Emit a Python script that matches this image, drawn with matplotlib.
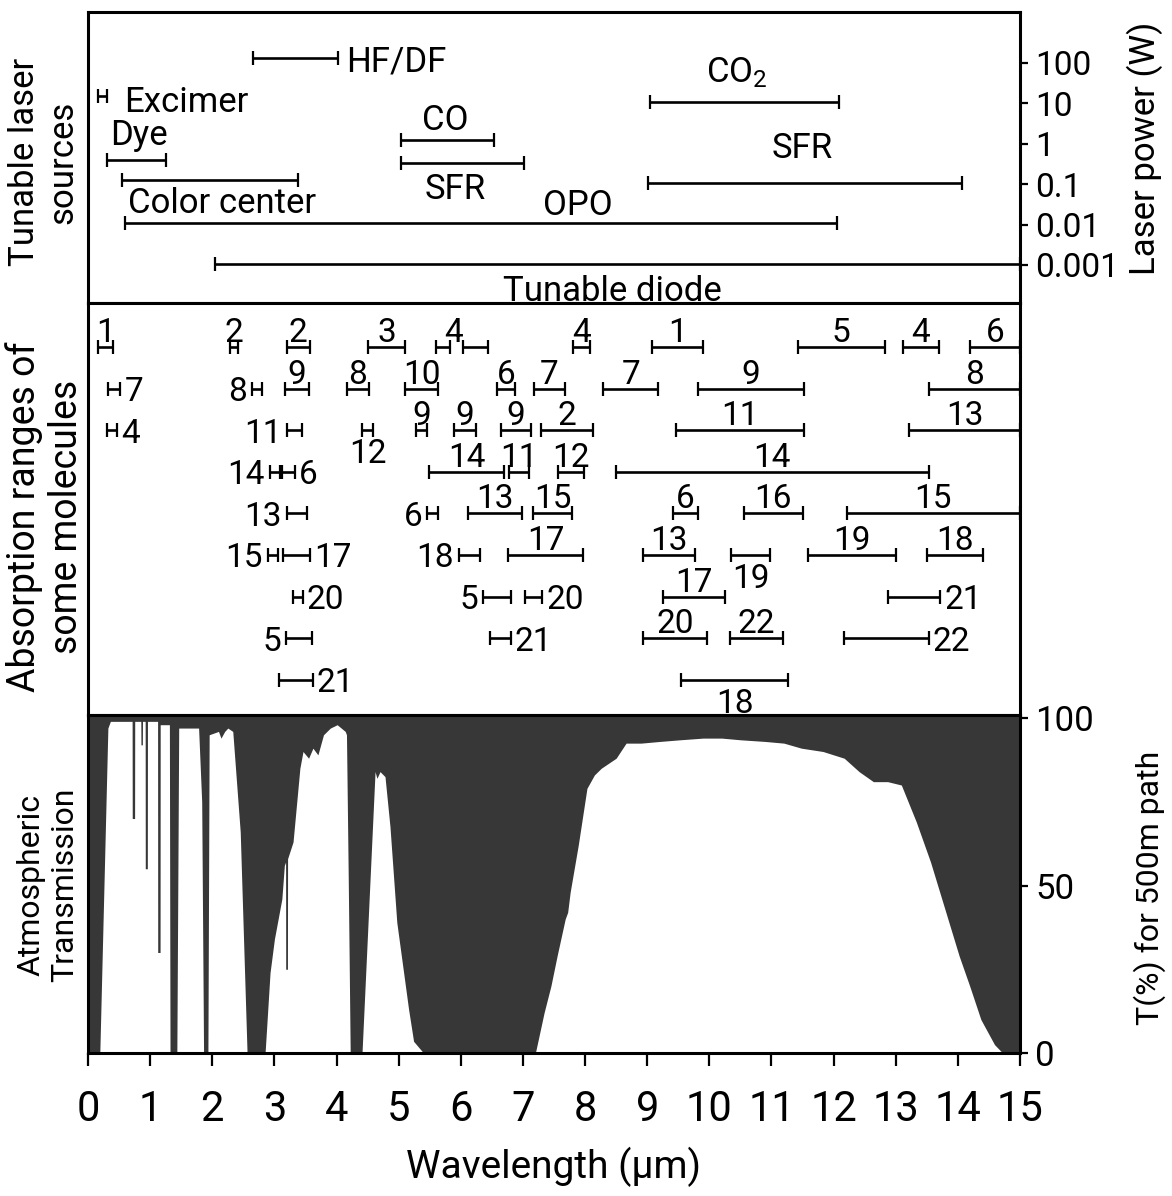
import numpy as np
import matplotlib
matplotlib.use("Agg")
import matplotlib.pyplot as plt
from matplotlib import font_manager as fm

# ---------------- data ----------------
# Tunable laser sources: wavelength range (um) and laser power (W)
laser_names = ["HF/DF", "Excimer", "Dye", "Color center", "CO", "SFR",
               "OPO", "Tunable diode", "CO$_2$", "SFR"]
laser_start = [2.66, 0.16, 0.31, 0.55, 5.04, 5.04, 0.60, 2.05, 9.05, 9.02]
laser_end = [4.03, 0.31, 1.26, 3.38, 6.54, 7.02, 12.06, 15.0, 12.09, 14.07]
laser_power = [130, 15, 0.40, 0.127, 1.24, 0.33, 0.011, 0.00106, 10.8, 0.107]
power_ticks = [100, 10, 1, 0.1, 0.01, 0.001]
power_tick_labels = ["100", "10", "1", "0.1", "0.01", "0.001"]

# Absorption ranges of some molecules (row, start um, end um, molecule number)
mol_label = ["1", "2", "2", "3", "4", "", "4", "1", "5", "4", "6",
             "7", "8", "9", "8", "10", "6", "7", "7", "9", "8",
             "4", "11", "12", "9", "9", "9", "2", "11", "13",
             "14", "6", "14", "11", "12", "14",
             "13", "6", "13", "15", "6", "16", "15",
             "15", "17", "18", "17", "13", "19", "19", "18",
             "20", "5", "20", "17", "21",
             "5", "21", "20", "22", "22",
             "21", "18"]
mol_row = [1, 1, 1, 1, 1, 1, 1, 1, 1, 1, 1,
           2, 2, 2, 2, 2, 2, 2, 2, 2, 2,
           3, 3, 3, 3, 3, 3, 3, 3, 3,
           4, 4, 4, 4, 4, 4,
           5, 5, 5, 5, 5, 5, 5,
           6, 6, 6, 6, 6, 6, 6, 6,
           7, 7, 7, 7, 7,
           8, 8, 8, 8, 8,
           9, 9]
mol_start = [0.16, 2.29, 3.20, 4.51, 5.60, 6.04, 7.81, 9.08, 11.42, 13.12, 14.20,
             0.32, 2.64, 3.17, 4.17, 5.10, 6.59, 7.18, 8.29, 9.81, 13.54,
             0.31, 3.20, 4.41, 5.28, 5.89, 6.65, 7.29, 9.47, 13.22,
             2.93, 3.12, 5.49, 6.78, 7.57, 8.49,
             3.20, 5.46, 6.12, 7.17, 9.42, 10.55, 12.21,
             2.90, 3.14, 5.97, 6.76, 8.94, 10.35, 11.58, 13.51,
             3.30, 6.36, 7.04, 9.26, 12.88,
             3.19, 6.47, 8.94, 10.34, 12.17,
             3.08, 9.55]
mol_end = [0.40, 2.42, 3.57, 5.10, 5.83, 6.44, 8.08, 9.90, 12.83, 13.69, 15.0,
           0.52, 2.80, 3.56, 4.52, 5.64, 6.88, 7.67, 9.18, 11.53, 15.0,
           0.47, 3.45, 4.59, 5.46, 6.25, 7.13, 8.12, 11.53, 15.0,
           3.09, 3.33, 6.70, 7.09, 7.99, 13.53,
           3.53, 5.64, 6.99, 7.79, 9.82, 11.50, 15.0,
           3.06, 3.57, 6.31, 7.97, 9.77, 10.98, 13.01, 14.41,
           3.46, 6.80, 7.31, 10.26, 13.72,
           3.61, 6.80, 9.97, 11.18, 13.53,
           3.62, 11.27]

# Atmospheric transmission (%) for a 500 m path: (wavelength um, T %)
transmission = [
    (0.00, 0), (0.19, 0), (0.32, 97), (0.36, 99), (0.71, 99), (0.712, 70),
    (0.75, 70), (0.752, 99), (0.85, 99), (0.852, 92), (0.875, 92), (0.877, 99),
    (0.92, 99), (0.922, 55), (0.955, 55), (0.957, 99), (1.12, 99), (1.122, 30),
    (1.16, 30), (1.162, 98), (1.31, 98), (1.32, 0),
    (1.43, 0), (1.46, 97), (1.78, 97), (1.83, 75), (1.86, 0), (1.93, 0),
    (1.95, 95), (2.10, 96), (2.14, 94), (2.20, 96), (2.25, 97), (2.33, 96),
    (2.45, 66), (2.50, 36), (2.56, 0), (2.85, 0), (2.93, 24), (3.00, 34),
    (3.12, 46), (3.16, 56), (3.18, 57), (3.182, 25), (3.21, 25), (3.212, 58),
    (3.30, 63), (3.41, 85), (3.46, 90), (3.55, 88), (3.62, 91), (3.70, 89),
    (3.79, 95), (3.90, 97), (4.01, 98), (4.14, 96), (4.16, 95), (4.19, 50),
    (4.22, 0), (4.41, 0), (4.62, 84), (4.65, 82), (4.70, 84), (4.78, 82.5),
    (4.86, 67.6), (4.97, 39), (5.16, 13), (5.24, 3.5), (5.40, 0), (7.20, 0),
    (7.34, 12), (7.45, 20), (7.55, 29), (7.68, 40), (7.72, 42), (7.76, 48),
    (7.89, 62), (8.03, 79), (8.15, 83), (8.26, 85), (8.50, 88), (8.66, 92.5),
    (8.90, 92.5), (9.20, 93), (9.53, 93.5), (9.90, 94), (10.20, 94),
    (10.50, 93.5), (10.90, 93), (11.20, 92.5), (11.48, 91), (11.83, 90),
    (12.17, 88), (12.41, 84), (12.64, 81), (12.87, 81), (13.09, 80),
    (13.33, 69), (13.56, 57), (13.79, 43), (14.02, 29), (14.19, 20),
    (14.37, 10), (14.59, 2.5), (14.72, 0), (15.0, 0)]
T_ticks = [0, 50, 100]
wl_ticks = list(range(0, 16))

# ---------------- style ----------------
# label placement for laser sources: (anchor, dx px, dy px, ha, va)
laser_label_style = [("end", 8, 0, "left", "center_baseline"),
                     ("end", 17, -3, "left", "center_baseline"),
                     ("start", 3, 15, "left", "baseline"),
                     ("start", 6, -7, "left", "top"),
                     ("center", -3, 10, "center", "baseline"),
                     ("center", -7, -10, "center", "top"),
                     ("start", 453, 8, "center", "baseline"),
                     ("start", 397, -11, "center", "top"),
                     ("center", -8, 12, "center", "bottom"),
                     ("center", -3, 18, "center", "bottom")]
mol_label_side = ["above", "above", "above", "above", "end", "none", "above", "above", "above", "above", "above",
                  "right", "left", "above", "above", "above", "above", "above", "above", "above", "above",
                  "right", "left", "below", "above", "above", "above", "above", "above", "above",
                  "left", "right", "above", "above", "above", "above",
                  "left", "left", "above", "above", "above", "above", "above",
                  "left", "right", "left", "above", "above", "below", "above", "above",
                  "right", "left", "right", "above", "right",
                  "left", "right", "above", "above", "right",
                  "right", "below"]
assert len(mol_label) == len(mol_row) == len(mol_start) == len(mol_end) == len(mol_label_side)

names = {f.name for f in fm.fontManager.ttflist}
FAM = "Roboto" if "Roboto" in names else "DejaVu Sans"
WT = "normal"
plt.rcParams["font.family"] = [FAM, "DejaVu Sans"]
plt.rcParams["font.weight"] = WT
plt.rcParams["mathtext.default"] = "regular"

LW_SPINE = 2.2
LW_BAR = 1.9
DARK = "#373737"

fig = plt.figure(figsize=(11.72, 11.96), dpi=100)
W, H = 1172.0, 1196.0
x0, x1 = 88, 1020


def axrect(top, bottom):
    return [x0 / W, 1 - bottom / H, (x1 - x0) / W, (bottom - top) / H]


ax_top = fig.add_axes(axrect(12, 303))
ax_mid = fig.add_axes(axrect(303, 715))
ax_bot = fig.add_axes(axrect(715, 1053))

for ax in (ax_top, ax_mid, ax_bot):
    ax.set_xlim(0, 15)
    for s in ax.spines.values():
        s.set_linewidth(LW_SPINE)
        s.set_color("black")
    ax.tick_params(which="both", left=False, bottom=False, labelleft=False, labelbottom=False)

# ---- top panel: tunable laser sources ----
ax_top.set_yscale("log")
ax_top.set_ylim(1.14e-4, 1820)
ax_top.minorticks_off()
for i, name in enumerate(laser_names):
    ax_top.plot([laser_start[i], laser_end[i]], [laser_power[i]] * 2, color="black",
                lw=LW_BAR, marker="|", markersize=10, markeredgewidth=1.6, solid_capstyle="butt",
                clip_on=False if laser_end[i] < 15 else True)
    anchor, dx, dy, ha, va = laser_label_style[i]
    ax_x = {"start": laser_start[i], "end": laser_end[i],
            "center": 0.5 * (laser_start[i] + laser_end[i])}[anchor]
    ax_top.annotate(name, xy=(ax_x, laser_power[i]), xytext=(dx, dy),
                    textcoords="offset pixels", ha=ha, va=va, fontsize=25, fontweight=WT)
ax_top.yaxis.set_ticks_position("right")
ax_top.set_yticks(power_ticks)
ax_top.set_yticklabels(power_tick_labels)
ax_top.tick_params(axis="y", which="major", right=True, labelright=True, direction="out",
                   length=6, width=1.6, labelsize=24, pad=5)

# ---- middle panel: absorption ranges ----
ax_mid.set_ylim(9.85, -0.06)
ax_mid.set_yticks([])
ax_mid.set_xticks([])
for i in range(len(mol_label)):
    a, b, r = mol_start[i], mol_end[i], mol_row[i]
    ax_mid.plot([a, b], [r, r], color="black", lw=LW_BAR, marker="|", markersize=10,
                markeredgewidth=1.6, solid_capstyle="butt")
    side = mol_label_side[i]
    if side == "none" or not mol_label[i]:
        continue
    if side == "above":
        xy, off, ha, va = ((a + b) / 2, r), (0, 5), "center", "baseline"
    elif side == "end":
        xy, off, ha, va = (b, r), (3, 5), "center", "baseline"
    elif side == "below":
        xy, off, ha, va = ((a + b) / 2, r), (0, -8), "center", "top"
    elif side == "left":
        xy, off, ha, va = (a, r), (-5, 0), "right", "center_baseline"
    else:
        xy, off, ha, va = (b, r), (4, 0), "left", "center_baseline"
    ax_mid.annotate(mol_label[i], xy=xy, xytext=off, textcoords="offset pixels",
                    ha=ha, va=va, fontsize=24, fontweight=WT)

# ---- bottom panel: atmospheric transmission ----
wl = np.array([p[0] for p in transmission])
tr = np.array([p[1] for p in transmission])
ax_bot.set_facecolor(DARK)
ax_bot.set_ylim(0, 100.9)
ax_bot.fill_between(wl, 0, tr, color="white", lw=0)
ax_bot.yaxis.set_ticks_position("right")
ax_bot.set_yticks(T_ticks)
ax_bot.set_yticklabels([str(t) for t in T_ticks])
ax_bot.tick_params(axis="y", right=True, labelright=True, direction="out", length=6,
                   width=1.6, labelsize=25, pad=5)
ax_bot.set_xticks(wl_ticks)
ax_bot.set_xticklabels([str(t) for t in wl_ticks])
ax_bot.tick_params(axis="x", bottom=True, labelbottom=True, direction="out", length=9,
                   width=1.6, labelsize=30, pad=17)

# ---- axis titles ----
fig.text(44 / W, 1 - 162 / H, "Tunable laser\nsources", rotation=90, ha="center", va="center",
         multialignment="center", fontsize=25, fontweight=WT)
fig.text(45 / W, 1 - 517 / H, "Absorption ranges of\nsome molecules", rotation=90, ha="center",
         va="center", multialignment="center", fontsize=27, fontweight=WT)
fig.text(48 / W, 1 - 885 / H, "Atmospheric\nTransmission", rotation=90, ha="center", va="center",
         multialignment="center", fontsize=23, fontweight=WT)
fig.text(1145 / W, 1 - 148 / H, "Laser power (W)", rotation=90, ha="center", va="center",
         fontsize=25, fontweight=WT)
fig.text(1150 / W, 1 - 888 / H, "T(%) for 500m path", rotation=90, ha="center", va="center",
         fontsize=23, fontweight=WT)
fig.text(554 / W, 1 - 1167 / H, "Wavelength (\u03bcm)", ha="center", va="center",
         fontsize=28, fontweight=WT)

fig.savefig("out.png", dpi=100, facecolor="white")
